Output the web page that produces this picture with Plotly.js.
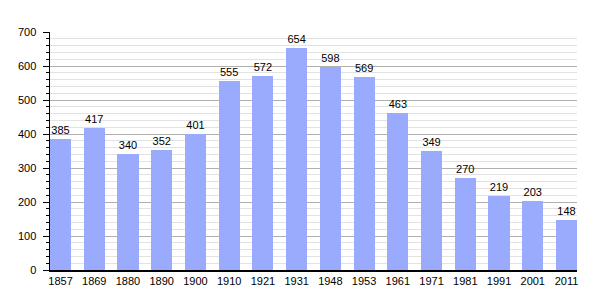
<!DOCTYPE html>
<html><head><meta charset="utf-8">
<script src="https://cdn.plot.ly/plotly-3.0.1.min.js"></script>
<style>html,body{margin:0;padding:0;background:#fff}#c{width:605px;height:300px}</style>
</head><body><div id="c"></div>
<script>
const years = ['1857','1869','1880','1890','1900','1910','1921','1931','1948','1953','1961','1971','1981','1991','2001','2011'];
const population = [385,417,340,352,401,555,572,654,598,569,463,349,270,219,203,148];
const yTicks = [0,100,200,300,400,500,600,700];

const trace = {
  type: 'bar',
  x: years.map((_, i) => i),
  y: population,
  width: 0.624,
  marker: {color: '#9aabfd', line: {width: 0}},
  text: population.map(String),
  textposition: 'outside',
  textfont: {family: 'Liberation Sans, Arial, sans-serif', size: 11, color: '#000'},
  cliponaxis: false,
  hoverinfo: 'skip'
};
const layout = {
  width: 605, height: 300,
  margin: {l: 50, r: 28, t: 32, b: 30},
  paper_bgcolor: '#fff', plot_bgcolor: '#fff',
  showlegend: false,
  font: {family: 'Liberation Sans, Arial, sans-serif', size: 11, color: '#000'},
  xaxis: {
    range: [-0.312, 15.312],
    tickmode: 'array', tickvals: years.map((_, i) => i), ticktext: years,
    showgrid: false, zeroline: false,
    showline: true, linecolor: '#000', linewidth: 1.5,
    ticks: '', ticklen: 0, tickfont: {size: 11, color: '#000'}
  },
  yaxis: {
    range: [0, 700],
    tickmode: 'array', tickvals: yTicks, ticktext: yTicks.map(String),
    showgrid: true, gridcolor: '#b0b0b0', gridwidth: 1,
    zeroline: false,
    showline: true, linecolor: '#000', linewidth: 1.5,
    ticks: 'outside', ticklen: 6, tickcolor: '#000', tickwidth: 1,
    ticklabelstandoff: 4,
    tickfont: {size: 11, color: '#000'},
    minor: {dtick: 20, showgrid: true, gridcolor: '#e2e2e2', gridwidth: 1, ticks: 'outside', ticklen: 3, tickcolor: '#000'}
  },
  bargap: 0
};
Plotly.newPlot('c', [trace], layout, {displayModeBar: false, staticPlot: true});
</script></body></html>
